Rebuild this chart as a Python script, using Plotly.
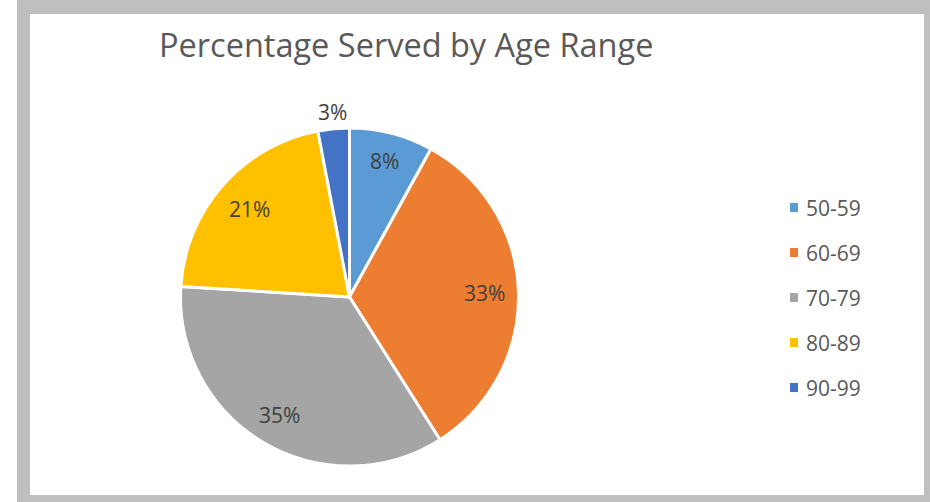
import math
import plotly.graph_objects as go

age_ranges = ["50-59", "60-69", "70-79", "80-89", "90-99"]
percent_served = [8, 33, 35, 21, 3]
slice_colors = ["#5B9BD5", "#ED7D31", "#A5A5A5", "#FFC000", "#4472C4"]
label_radius = [0.83, 0.80, 0.81, 0.79, 1.10]
chart_title = "Percentage Served by Age Range"

W, H = 930, 502

def px(x):
    return x / W

def py(y):
    return 1 - y / H

# pie geometry (pixels)
pie_left, pie_right, pie_top, pie_bottom = 180, 519, 128, 466
cx = (pie_left + pie_right) / 2
cy = (pie_top + pie_bottom) / 2
r = min(pie_right - pie_left, pie_bottom - pie_top) / 2

fig = go.Figure()
fig.add_trace(go.Pie(
    labels=age_ranges,
    values=percent_served,
    sort=False,
    direction="clockwise",
    rotation=0,
    marker=dict(colors=slice_colors, line=dict(color="white", width=3)),
    textinfo="none",
    domain=dict(x=[px(pie_left), px(pie_right)], y=[py(pie_bottom), py(pie_top)]),
    showlegend=False,
    hoverinfo="label+percent",
))

shapes = []
frame_color = "#BFBFBF"
for x0, y0, x1, y1 in [(17, 0, 930, 14), (17, 0, 30, 502), (924, 0, 930, 502), (17, 495, 930, 502)]:
    shapes.append(dict(type="rect", xref="paper", yref="paper",
                       x0=px(x0), x1=px(x1), y0=py(y1), y1=py(y0),
                       fillcolor=frame_color, line=dict(width=0), layer="above"))

annotations = [dict(text=chart_title, x=px(406), y=py(44), xref="paper", yref="paper",
                    xanchor="center", yanchor="middle", showarrow=False,
                    font=dict(family="Open Sans", size=32.5, color="#595959"))]

# data labels placed along each slice's mid-angle
total = sum(percent_served)
cum = 0
for v, f in zip(percent_served, label_radius):
    mid = (cum + v / 2) / total * 2 * math.pi
    cum += v
    lx = cx + f * r * math.sin(mid)
    ly = cy - f * r * math.cos(mid)
    annotations.append(dict(text=f"{v}%", x=px(lx), y=py(ly), xref="paper", yref="paper",
                            xanchor="center", yanchor="middle", showarrow=False,
                            font=dict(family="Open Sans", size=21, color="#404040")))

# legend
leg_y0, leg_dy = 207.5, 45
for i, (lab, col) in enumerate(zip(age_ranges, slice_colors)):
    yc = leg_y0 + i * leg_dy
    shapes.append(dict(type="rect", xref="paper", yref="paper",
                       x0=px(790), x1=px(798), y0=py(yc + 4.5), y1=py(yc - 4.5),
                       fillcolor=col, line=dict(width=0)))
    annotations.append(dict(text=lab, x=px(804), y=py(yc), xref="paper", yref="paper",
                            xanchor="left", yanchor="middle", showarrow=False,
                            font=dict(family="Open Sans", size=21, color="#595959")))

fig.update_layout(
    width=W, height=H,
    margin=dict(l=0, r=0, t=0, b=0),
    paper_bgcolor="white",
    plot_bgcolor="white",
    shapes=shapes,
    annotations=annotations,
)

fig.write_html("out.html", config={"displayModeBar": False},
               post_script="document.body.style.margin='0';")
